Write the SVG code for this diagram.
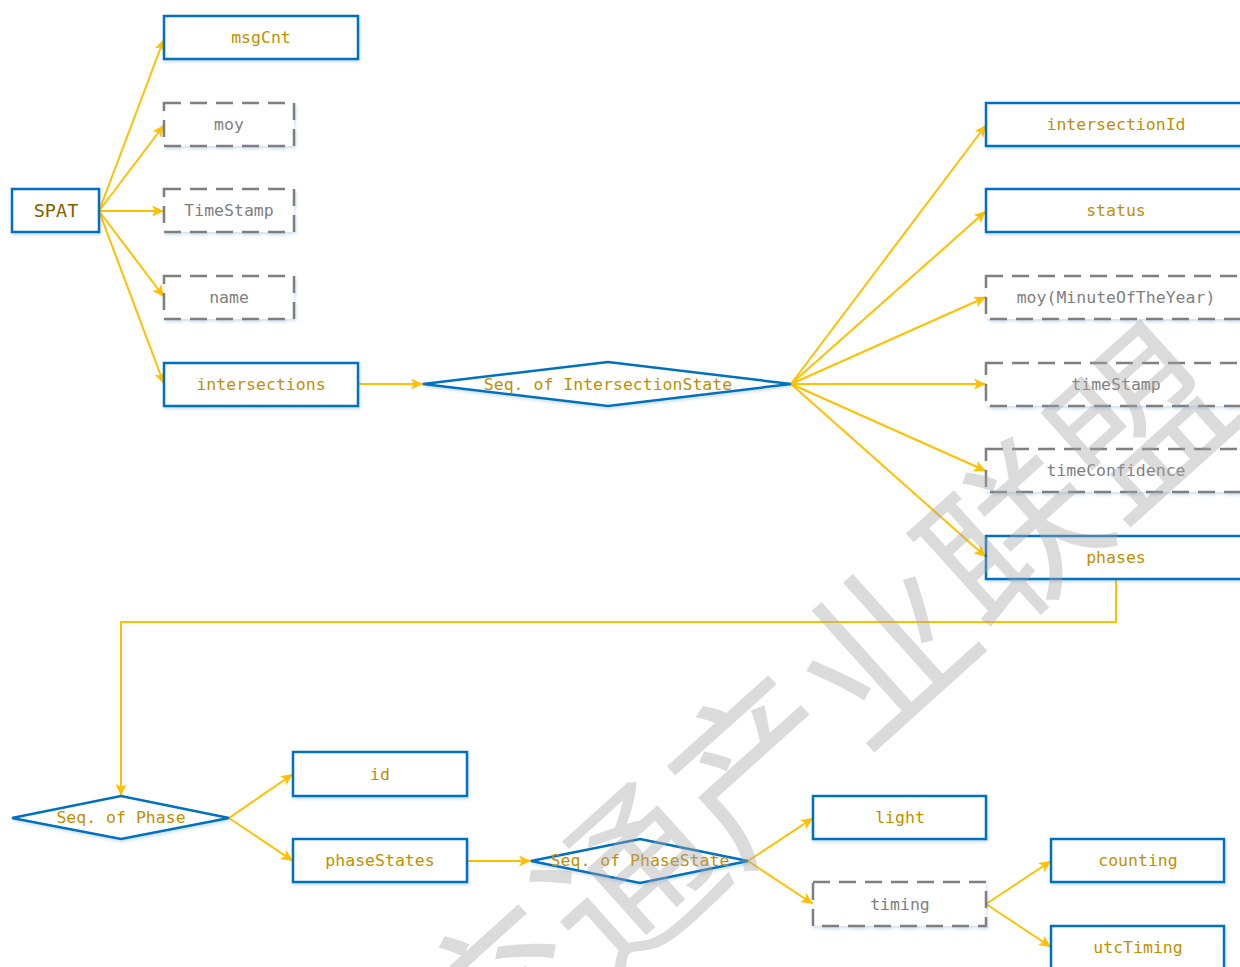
<svg xmlns="http://www.w3.org/2000/svg" width="1240" height="967" viewBox="0 0 1240 967">
<style>
.box{fill:#ffffff;stroke:#0070C0;stroke-width:2.5;filter:url(#sh)}
.opt{fill:#ffffff;stroke:#7F7F7F;stroke-width:2.5;stroke-dasharray:17 9;filter:url(#sh)}
.dia{fill:#ffffff;stroke:#0070C0;stroke-width:2.5;filter:url(#sh)}
.t{font-family:"DejaVu Sans Mono","Liberation Mono",monospace;font-size:16.5px;fill:#BF8F00;text-anchor:middle}
.g{fill:#7F7F7F}
.root{font-size:18.5px;fill:#7F6000}
.c{fill:none;stroke:#FFC000;stroke-width:2;marker-end:url(#ah)}
.wm{font-family:"Noto Sans CJK SC",sans-serif;font-size:172px;fill:#A6A6A6;fill-opacity:0.4}
</style>
<defs>
<marker id="ah" markerUnits="userSpaceOnUse" markerWidth="14" markerHeight="12" refX="12" refY="5.5" orient="auto">
<path d="M0,0 L12,5.5 L0,11 L3,5.5 z" fill="#FFC000"/>
</marker>
<filter id="sh" x="-10%" y="-20%" width="120%" height="150%">
<feDropShadow dx="1" dy="2" stdDeviation="1.5" flood-color="#5B9BD5" flood-opacity="0.3"/>
</filter>
</defs>
<rect width="1240" height="967" fill="#ffffff"/>
<g id="connectors">
<path class="c" d="M99,211 L164,39"/>
<path class="c" d="M99,211 L164,125"/>
<path class="c" d="M99,211 L164,211"/>
<path class="c" d="M99,211 L164,297"/>
<path class="c" d="M99,211 L164,384"/>
<path class="c" d="M358,384 L423,384"/>
<path class="c" d="M791,384 L986,125"/>
<path class="c" d="M791,384 L986,211"/>
<path class="c" d="M791,384 L986,297"/>
<path class="c" d="M791,384 L986,384"/>
<path class="c" d="M791,384 L986,471"/>
<path class="c" d="M791,384 L986,557"/>
<path class="c" d="M1116,579 V622 H121 V796"/>
<path class="c" d="M229,818 L293,774"/>
<path class="c" d="M229,818 L293,861"/>
<path class="c" d="M467,861 L531,861"/>
<path class="c" d="M748,861 L813,818"/>
<path class="c" d="M748,861 L813,904"/>
<path class="c" d="M986,904 L1051,861"/>
<path class="c" d="M986,904 L1051,947"/>
</g>
<g id="SPAT"><rect class="box" x="12" y="189" width="87" height="43"/><text class="t root" x="56" y="217">SPAT</text></g>
<g id="msgCnt"><rect class="box" x="164" y="16" width="194" height="43"/><text class="t" x="261" y="43">msgCnt</text></g>
<g id="moy"><rect class="opt" x="164" y="103" width="130" height="43"/><text class="t g" x="229" y="130">moy</text></g>
<g id="TimeStamp"><rect class="opt" x="164" y="189" width="130" height="43"/><text class="t g" x="229" y="216">TimeStamp</text></g>
<g id="name"><rect class="opt" x="164" y="276" width="130" height="43"/><text class="t g" x="229" y="303">name</text></g>
<g id="intersections"><rect class="box" x="164" y="363" width="194" height="43"/><text class="t" x="261" y="390">intersections</text></g>
<g id="seqIntersectionState"><polygon class="dia" points="423,384 608,362 791,384 608,406"/><text class="t" x="608" y="390">Seq. of IntersectionState</text></g>
<g id="intersectionId"><rect class="box" x="986" y="103" width="262" height="43"/><text class="t" x="1116" y="130">intersectionId</text></g>
<g id="status"><rect class="box" x="986" y="189" width="262" height="43"/><text class="t" x="1116" y="216">status</text></g>
<g id="moyMinute"><rect class="opt" x="986" y="276" width="262" height="43"/><text class="t g" x="1116" y="303">moy(MinuteOfTheYear)</text></g>
<g id="timeStamp"><rect class="opt" x="986" y="363" width="262" height="43"/><text class="t g" x="1116" y="390">timeStamp</text></g>
<g id="timeConfidence"><rect class="opt" x="986" y="449" width="262" height="43"/><text class="t g" x="1116" y="476">timeConfidence</text></g>
<g id="phases"><rect class="box" x="986" y="536" width="262" height="43"/><text class="t" x="1116" y="563">phases</text></g>
<g id="seqPhase"><polygon class="dia" points="12,818 121,796 229,818 121,839"/><text class="t" x="121" y="823">Seq. of Phase</text></g>
<g id="id"><rect class="box" x="293" y="752" width="174" height="44"/><text class="t" x="380" y="780">id</text></g>
<g id="phaseStates"><rect class="box" x="293" y="839" width="174" height="43"/><text class="t" x="380" y="866">phaseStates</text></g>
<g id="seqPhaseState"><polygon class="dia" points="531,861 640,839 748,861 640,883"/><text class="t" x="640" y="866">Seq. of PhaseState</text></g>
<g id="light"><rect class="box" x="813" y="796" width="173" height="43"/><text class="t" x="900" y="823">light</text></g>
<g id="timing"><rect class="opt" x="813" y="882" width="173" height="44"/><text class="t g" x="900" y="910">timing</text></g>
<g id="counting"><rect class="box" x="1051" y="839" width="173" height="43"/><text class="t" x="1138" y="866">counting</text></g>
<g id="utcTiming"><rect class="box" x="1051" y="926" width="173" height="44"/><text class="t" x="1138" y="953">utcTiming</text></g>
<g id="watermark" transform="translate(884,650) rotate(-42)">
<text class="wm" x="-602" y="65">交通产业联盟</text>
</g>
</svg>
